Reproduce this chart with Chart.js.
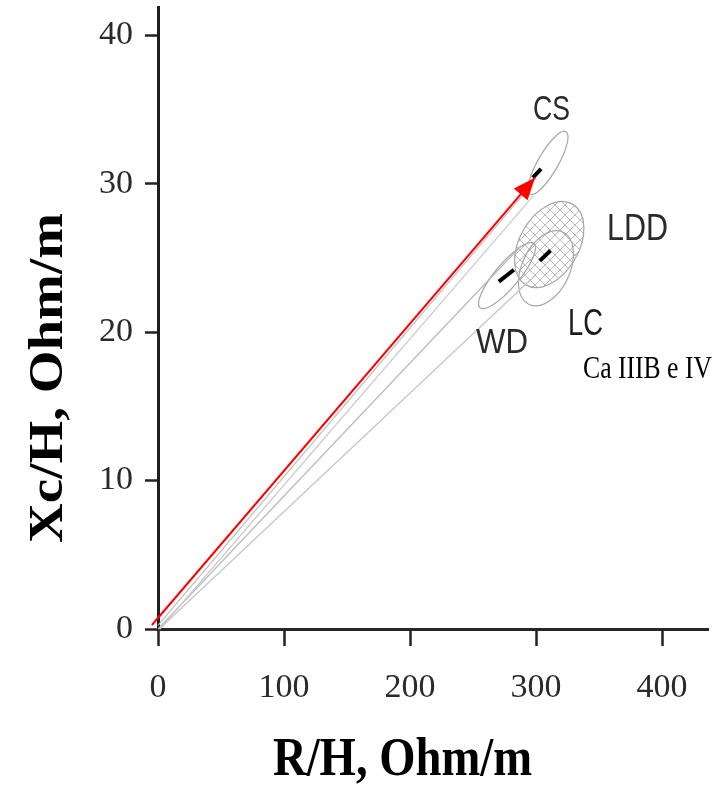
<!DOCTYPE html>
<html><head><meta charset="utf-8">
<script src="https://cdn.jsdelivr.net/npm/chart.js@4.4.1/dist/chart.umd.min.js"></script>
<style>html,body{margin:0;padding:0;background:#fff}#wrap{width:724px;height:786px;position:relative}</style>
</head><body><div id="wrap"><canvas id="c" width="724" height="786"></canvas></div>
<script>
// ---- data ----
const xTicks = [0, 100, 200, 300, 400];
const yTicks = [0, 10, 20, 30, 40];
const xRange = [0, 436.5];
const yRange = [0, 41.9];

const redVector = [{x: -4.8, y: 0.27}, {x: 299.2, y: 30.4}];
const csBand1 = [{x: 0, y: 0.25}, {x: 293, y: 29.6}];
const csBand2 = [{x: 1.5, y: 0}, {x: 298, y: 29.2}];
const groupBand1 = [{x: 0, y: 0}, {x: 288, y: 25.8}];
const groupBand2 = [{x: 1, y: 0}, {x: 299, y: 23.8}];
const csMean = [{x: 297.5, y: 30.4}, {x: 304.0, y: 31.0}];
const lcMean = [{x: 303.0, y: 24.8}, {x: 311.5, y: 25.5}];
const wdMean = [{x: 270.5, y: 23.4}, {x: 282.5, y: 24.2}];

// confidence ellipses: centre (R/H, Xc/H), semi-axes in R/H units, tilt in degrees
const ellipseNames = ['CS', 'LDD', 'LC', 'WD'];
const ellipseCX = [309.5, 310.5, 307.9, 277.0];
const ellipseCY = [31.4, 25.9, 24.3, 23.8];
const ellipseA = [28.6, 37.0, 31.7, 33.3];
const ellipseB = [8.0, 23.5, 19.0, 9.5];
const ellipseTilt = [60, 60, 65, 50];
const ellipseHatch = [false, true, false, false];

const groupLabels = ['CS', 'LDD', 'LC', 'WD', 'Ca IIIB e IV'];
const groupLabelX = [297.6, 356.3, 325.4, 252.4, 337.3];
const groupLabelY = [34.28, 26.2, 19.8, 18.59, 16.9];

const xTitle = 'R/H, Ohm/m';
const yTitle = 'Xc/H, Ohm/m';

// ---- styles ----
const labelStyle = [
  {w: 37, cap: 25, fam: '"Liberation Sans", Arial, sans-serif', weight: 'normal', color: '#2a2a2a', cr: 0.716},
  {w: 61, cap: 27, fam: '"Liberation Sans", Arial, sans-serif', weight: 'normal', color: '#2a2a2a', cr: 0.716},
  {w: 35, cap: 26, fam: '"Liberation Sans", Arial, sans-serif', weight: 'normal', color: '#1a1a1a', cr: 0.716},
  {w: 52, cap: 25, fam: '"Liberation Sans", Arial, sans-serif', weight: 'normal', color: '#2a2a2a', cr: 0.716},
  {w: 129, cap: 21, fam: '"Liberation Serif", "Times New Roman", serif', weight: 'normal', color: '#000', cr: 0.662}
];

function drawFit(ctx, text, x, y, width, cap, fam, weight, color, cr) {
  const size = cap / cr;
  ctx.save();
  ctx.font = weight + ' ' + size + 'px ' + fam;
  ctx.fillStyle = color;
  ctx.textAlign = 'left';
  ctx.textBaseline = 'alphabetic';
  const m = ctx.measureText(text).width;
  ctx.translate(x, y);
  ctx.scale(width / m, 1);
  ctx.fillText(text, 0, 0);
  ctx.restore();
}

function hatchPattern(ctx) {
  const c = document.createElement('canvas');
  c.width = 10; c.height = 10;
  const g = c.getContext('2d');
  g.strokeStyle = 'rgba(120,120,120,0.5)';
  g.lineWidth = 1;
  g.beginPath();
  g.moveTo(0, 0); g.lineTo(10, 10);
  g.moveTo(10, 0); g.lineTo(0, 10);
  g.stroke();
  return ctx.createPattern(c, 'repeat');
}

const ellipsePlugin = {
  id: 'ellipses',
  beforeDatasetsDraw(chart) {
    const ctx = chart.ctx, xs = chart.scales.x, ys = chart.scales.y;
    const k = xs.getPixelForValue(1) - xs.getPixelForValue(0);
    const pat = hatchPattern(ctx);
    for (let i = 0; i < ellipseNames.length; i++) {
      const cx = xs.getPixelForValue(ellipseCX[i]);
      const cy = ys.getPixelForValue(ellipseCY[i]);
      ctx.save();
      ctx.beginPath();
      ctx.ellipse(cx, cy, ellipseA[i] * k, ellipseB[i] * k, -ellipseTilt[i] * Math.PI / 180, 0, Math.PI * 2);
      if (ellipseHatch[i]) { ctx.fillStyle = pat; ctx.fill(); }
      ctx.strokeStyle = '#a6a6a6';
      ctx.lineWidth = 1.2;
      ctx.stroke();
      ctx.restore();
    }
  },
  afterDatasetsDraw(chart) {
    const ctx = chart.ctx, xs = chart.scales.x, ys = chart.scales.y;
    const meta = chart.getDatasetMeta(0);
    const p0 = meta.data[0], p1 = meta.data[1];
    const ang = Math.atan2(p1.y - p0.y, p1.x - p0.x);
    const L = 22, H = 9;
    ctx.save();
    ctx.fillStyle = '#ff0000';
    ctx.beginPath();
    ctx.moveTo(p1.x, p1.y);
    ctx.lineTo(p1.x - L * Math.cos(ang) + H * Math.sin(ang), p1.y - L * Math.sin(ang) - H * Math.cos(ang));
    ctx.lineTo(p1.x - L * Math.cos(ang) - H * Math.sin(ang), p1.y - L * Math.sin(ang) + H * Math.cos(ang));
    ctx.closePath();
    ctx.fill();
    ctx.restore();
    for (let i = 0; i < groupLabels.length; i++) {
      const s = labelStyle[i];
      drawFit(ctx, groupLabels[i], xs.getPixelForValue(groupLabelX[i]), ys.getPixelForValue(groupLabelY[i]),
        s.w, s.cap, s.fam, s.weight, s.color, s.cr);
    }
  },
  afterDraw(chart) {
    const ctx = chart.ctx;
    const serifB = '"Liberation Serif", "Times New Roman", serif';
    drawFit(ctx, xTitle, 273, 775, 259, 37, serifB, 'bold', '#000', 0.662);
    ctx.save();
    ctx.translate(62, 543);
    ctx.rotate(-Math.PI / 2);
    drawFit(ctx, yTitle, 0, 0, 330, 32, serifB, 'bold', '#000', 0.662);
    ctx.restore();
  }
};

function lineDs(data, color, width) {
  return {data, borderColor: color, borderWidth: width, pointRadius: 0, tension: 0, fill: false, clip: false};
}

new Chart(document.getElementById('c').getContext('2d'), {
  type: 'line',
  data: {
    datasets: [
      lineDs(redVector, '#ff0000', 2),
      lineDs(csBand1, '#bdbdbd', 1.2),
      lineDs(csBand2, '#cacaca', 1.2),
      lineDs(groupBand1, '#b8b8b8', 1.2),
      lineDs(groupBand2, '#c4c4c4', 1.2),
      lineDs(csMean, '#000', 4),
      lineDs(lcMean, '#000', 4),
      lineDs(wdMean, '#000', 4)
    ]
  },
  options: {
    responsive: false,
    animation: false,
    devicePixelRatio: 1,
    layout: {padding: {left: 0, top: 7, right: 16, bottom: 0}},
    plugins: {legend: {display: false}, tooltip: {enabled: false}},
    scales: {
      x: {
        type: 'linear', min: xRange[0], max: xRange[1],
        afterBuildTicks: s => { s.ticks = xTicks.map(v => ({value: v})); },
        afterFit: s => { s.height = 157; s.paddingLeft = 0; s.paddingRight = 0; },
        grid: {drawOnChartArea: false, drawTicks: true, tickLength: 17, tickWidth: 2.5, tickColor: '#222'},
        border: {display: true, color: '#262626', width: 3},
        ticks: {font: {family: '"Liberation Serif", "Times New Roman", serif', size: 34}, color: '#2a2a2a',
          padding: 22, maxRotation: 0, autoSkip: false}
      },
      y: {
        type: 'linear', min: yRange[0], max: yRange[1],
        afterBuildTicks: s => { s.ticks = yTicks.map(v => ({value: v})); },
        afterFit: s => { s.width = 158; s.paddingTop = 0; s.paddingBottom = 0; },
        grid: {drawOnChartArea: false, drawTicks: true, tickLength: 13, tickWidth: 2.5, tickColor: '#222'},
        border: {display: true, color: '#1e1e1e', width: 3},
        ticks: {font: {family: '"Liberation Serif", "Times New Roman", serif', size: 34}, color: '#2a2a2a',
          padding: 12, autoSkip: false}
      }
    }
  },
  plugins: [ellipsePlugin]
});
</script>
</body></html>
